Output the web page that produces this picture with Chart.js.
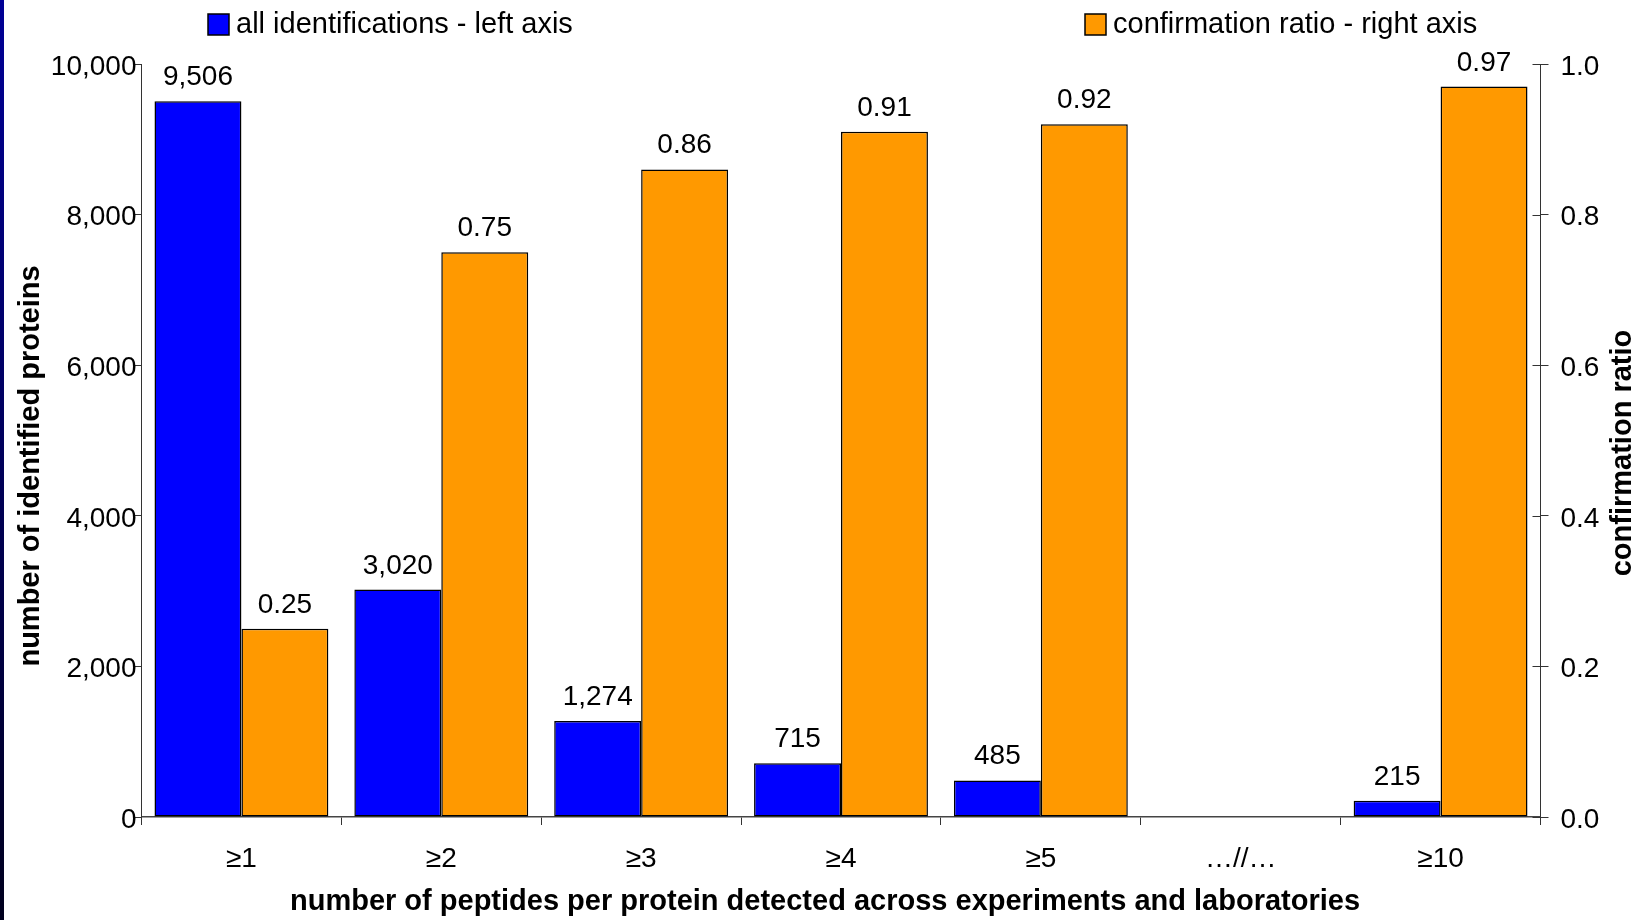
<!DOCTYPE html>
<html>
<head>
<meta charset="utf-8">
<script src="https://cdn.jsdelivr.net/npm/chart.js@4.4.1/dist/chart.umd.min.js"></script>
<style>
  html, body { margin: 0; padding: 0; background: #fff; overflow: hidden; }
  #wrap { position: relative; width: 1644px; height: 920px; }
  #edge { position: absolute; left: 0; top: 0; width: 4px; height: 920px; background: linear-gradient(#000096, #00001e); }
</style>
</head>
<body>
<div id="wrap">
  <canvas id="chart" width="1644" height="920"></canvas>
  <div id="edge"></div>
</div>
<script>
// Peptides-per-protein thresholds (gap marker before >=10)
const categories = ['≥1', '≥2', '≥3', '≥4', '≥5', '…//…', '≥10'];

// All identified proteins (left axis)
const identifications = [9506, 3020, 1274, 715, 485, null, 215];

// Confirmation ratio (right axis)
const confirmationRatio = [0.25, 0.75, 0.86, 0.91, 0.92, null, 0.97];

const leftAxis = { max: 10000, step: 2000 };
const rightAxis = { max: 1.0, step: 0.2 };

const FONT = "'Liberation Sans', Arial, sans-serif";

const fmtCount = (v) => v.toLocaleString('en-US');
const fmtRatio = (v) => v.toFixed(2);

// Numbers above each bar
const valueLabels = {
    id: 'valueLabels',
    afterDatasetsDraw(chart) {
        const ctx = chart.ctx;
        ctx.save();
        ctx.font = `28px ${FONT}`;
        ctx.fillStyle = '#000';
        ctx.textAlign = 'center';
        ctx.textBaseline = 'alphabetic';
        chart.data.datasets.forEach((ds, i) => {
            const fmt = i === 0 ? fmtCount : fmtRatio;
            chart.getDatasetMeta(i).data.forEach((bar, j) => {
                const v = ds.data[j];
                if (v === null) return;
                ctx.fillText(fmt(v), bar.x, bar.y - 16);
            });
        });
        ctx.restore();
    }
};

// Legend items sit apart, one over each axis side
const legendSlots = [{ x: 208, y: 14 }, { x: 1085, y: 14 }];
const splitLegend = {
    id: 'splitLegend',
    afterDraw(chart) {
        const ctx = chart.ctx;
        ctx.save();
        ctx.font = `29px ${FONT}`;
        ctx.textBaseline = 'middle';
        ctx.textAlign = 'left';
        chart.data.datasets.forEach((ds, i) => {
            const s = legendSlots[i];
            ctx.fillStyle = ds.backgroundColor;
            ctx.fillRect(s.x, s.y, 21, 21);
            ctx.strokeStyle = '#000';
            ctx.lineWidth = 1.5;
            ctx.strokeRect(s.x, s.y, 21, 21);
            ctx.fillStyle = '#000';
            ctx.fillText(ds.label, s.x + 28, s.y + 11);
        });
        ctx.restore();
    }
};

// Axis titles: both vertical ones read bottom-to-top
const axisTitles = [
    { text: 'number of peptides per protein detected across experiments and laboratories', x: 825, y: 902, rot: 0 },
    { text: 'number of identified proteins', x: 31, y: 466, rot: -Math.PI / 2 },
    { text: 'confirmation ratio', x: 1623, y: 453, rot: -Math.PI / 2 }
];
const titlesPlugin = {
    id: 'axisTitles',
    afterDraw(chart) {
        const ctx = chart.ctx;
        ctx.save();
        ctx.font = `bold 29px ${FONT}`;
        ctx.fillStyle = '#000';
        ctx.textAlign = 'center';
        ctx.textBaseline = 'middle';
        axisTitles.forEach((t) => {
            ctx.save();
            ctx.translate(t.x, t.y);
            ctx.rotate(t.rot);
            ctx.fillText(t.text, 0, 0);
            ctx.restore();
        });
        ctx.restore();
    }
};

// Right axis tick marks cross into the plot
const innerTicks = {
    id: 'innerTicks',
    afterDraw(chart) {
        const s = chart.scales.y1;
        const ctx = chart.ctx;
        ctx.save();
        ctx.strokeStyle = '#333';
        ctx.lineWidth = 1;
        ctx.beginPath();
        s.ticks.forEach((t) => {
            const py = Math.round(s.getPixelForValue(t.value)) + 0.5;
            ctx.moveTo(s.left - 8, py);
            ctx.lineTo(s.left, py);
        });
        ctx.stroke();
        ctx.restore();
    }
};

const ctx = document.getElementById('chart').getContext('2d');
const chart = new Chart(ctx, {
    type: 'bar',
    data: {
        labels: categories,
        datasets: [{
            label: 'all identifications - left axis',
            data: identifications,
            backgroundColor: '#0000ff',
            borderColor: '#000',
            borderWidth: 1.5,
            borderSkipped: false,
            yAxisID: 'y'
        }, {
            label: 'confirmation ratio - right axis',
            data: confirmationRatio,
            backgroundColor: '#ff9900',
            borderColor: '#000',
            borderWidth: 1.5,
            borderSkipped: false,
            yAxisID: 'y1'
        }]
    },
    options: {
        responsive: false,
        animation: false,
        categoryPercentage: 0.87,
        barPercentage: 1.0,
        layout: { padding: { top: 64, left: 0, right: 0, bottom: 0 } },
        plugins: {
            legend: { display: false },
            tooltip: { enabled: false }
        },
        scales: {
            x: {
                offset: true,
                grid: { offset: true, drawOnChartArea: false, tickLength: 8, tickColor: '#333' },
                border: { color: '#444', width: 1.5 },
                ticks: { color: '#000', padding: 17, font: { family: FONT, size: 28 } },
                afterFit: (scale) => { scale.height = 103; }
            },
            y: {
                position: 'left',
                min: 0,
                max: leftAxis.max,
                grid: { drawOnChartArea: false, tickLength: 8, tickColor: '#333' },
                border: { color: '#333', width: 1 },
                ticks: {
                    stepSize: leftAxis.step,
                    color: '#000',
                    padding: -3,
                    labelOffset: 3,
                    font: { family: FONT, size: 28 },
                    callback: (v) => fmtCount(v)
                },
                afterFit: (scale) => { scale.width = 141.5; }
            },
            y1: {
                position: 'right',
                min: 0,
                max: rightAxis.max,
                grid: { drawOnChartArea: false, tickLength: 8, tickColor: '#333' },
                border: { color: '#333', width: 1 },
                ticks: {
                    stepSize: rightAxis.step,
                    color: '#000',
                    padding: 12,
                    labelOffset: 3,
                    font: { family: FONT, size: 28 },
                    callback: (v) => v.toFixed(1)
                },
                afterFit: (scale) => { scale.width = 103.5; }
            }
        }
    },
    plugins: [valueLabels, splitLegend, titlesPlugin, innerTicks]
});
</script>
</body>
</html>
